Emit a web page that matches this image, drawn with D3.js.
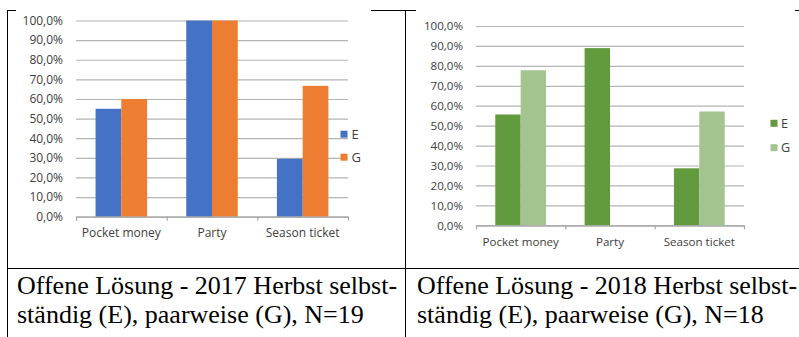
<!DOCTYPE html>
<html>
<head>
<meta charset="utf-8">
<script src="https://cdn.jsdelivr.net/npm/d3@7"></script>
<style>
  body { margin: 0; background: #fff; }
  svg { display: block; }
  .tick text { fill: #404040; }
  .caption { font-family: "Liberation Serif", "Times New Roman", serif; font-size: 26px; fill: #000; }
</style>
</head>
<body>
<div id="viz"></div>
<script>
// categories and series
const categories = ["Pocket money", "Party", "Season ticket"];
const seriesNames = ["E", "G"];
const yTicks = [0, 10, 20, 30, 40, 50, 60, 70, 80, 90, 100];

// 2017 chart values (%)
const values2017E = [55, 100, 29.5];
const values2017G = [60, 100, 66.7];
// 2018 chart values (%)
const values2018E = [55.6, 88.9, 28.6];
const values2018G = [77.8, 0, 57.1];

const captions2017 = ["Offene Lösung - 2017 Herbst selbst-", "ständig (E), paarweise (G), N=19"];
const captions2018 = ["Offene Lösung - 2018 Herbst selbst-", "ständig (E), paarweise (G), N=18"];

const CONST = {
  width: 799, height: 337,
  charts: [
    { left: 76, right: 348, top: 20.5, bottom: 216.7, labelY: 232.7,
      colors: ["#4472c4", "#ed7d31"], font: "Open Sans", fontSize: 12,
      legend: { x: 340.5, y: [134.2, 157.2], textX: 351.5 } },
    { left: 476, right: 744, top: 26, bottom: 225.3, labelY: 241.7,
      colors: ["#619b3e", "#a3c490"], font: "Open Sans", fontSize: 11.6,
      legend: { x: 770.5, y: [123.3, 147.7], textX: 781 } }
  ]
};

const svg = d3.select("#viz").append("svg")
  .attr("width", CONST.width)
  .attr("height", CONST.height);

function fmtPct(d) { return d.toFixed(1).replace(".", ",") + "%"; }

function drawChart(cfg, seriesE, seriesG) {
  const data = categories.map((c, i) => ({ cat: c, E: seriesE[i], G: seriesG[i] }));
  const W = cfg.right - cfg.left, H = cfg.bottom - cfg.top;
  const g = svg.append("g").attr("transform", `translate(${cfg.left},${cfg.top})`);

  const x0 = d3.scaleBand().domain(categories).range([0, W]).padding(0);
  const x1 = d3.scaleBand().domain(seriesNames).range([0, x0.bandwidth()])
    .paddingInner(0).paddingOuter(0.76);
  const y = d3.scaleLinear().domain([0, 100]).range([H, 0]);
  const color = d3.scaleOrdinal().domain(seriesNames).range(cfg.colors);

  // gridlines + y labels
  const yAxis = g.append("g")
    .call(d3.axisLeft(y).tickValues(yTicks).tickFormat(fmtPct)
      .tickSize(-W).tickPadding(13));
  yAxis.select(".domain").remove();
  yAxis.selectAll(".tick line").attr("stroke", "#b4b4b4").attr("stroke-width", 1.2);
  yAxis.selectAll(".tick text")
    .style("font-family", cfg.font).style("font-size", cfg.fontSize + "px");

  // bars
  g.append("g").selectAll("g").data(data).join("g")
    .attr("transform", d => `translate(${x0(d.cat)},0)`)
    .selectAll("rect")
    .data(d => seriesNames.map(s => ({ key: s, value: d[s] })))
    .join("rect")
    .attr("x", d => x1(d.key))
    .attr("width", x1.bandwidth())
    .attr("y", d => y(d.value))
    .attr("height", d => H - y(d.value))
    .attr("fill", d => color(d.key));

  // category axis with boundary ticks
  const xb = d3.scaleLinear().domain([0, categories.length]).range([0, W]);
  const xAxis = g.append("g").attr("transform", `translate(0,${H})`)
    .call(d3.axisBottom(xb).tickValues(d3.range(categories.length + 1))
      .tickFormat("").tickSize(4).tickSizeOuter(0));
  xAxis.selectAll("path, line").attr("stroke", "#a6a6a6").attr("stroke-width", 1.2);

  g.append("g").selectAll("text").data(categories).join("text")
    .attr("x", d => x0(d) + x0.bandwidth() / 2)
    .attr("y", cfg.labelY - cfg.top)
    .attr("dy", "0.35em")
    .attr("text-anchor", "middle")
    .style("font-family", cfg.font).style("font-size", cfg.fontSize + "px")
    .attr("fill", "#404040")
    .text(d => d);

  // legend
  const leg = svg.append("g");
  seriesNames.forEach((s, i) => {
    leg.append("rect")
      .attr("x", cfg.legend.x).attr("y", cfg.legend.y[i] - 3.5)
      .attr("width", 7).attr("height", 7)
      .attr("fill", color(s));
    leg.append("text")
      .attr("x", cfg.legend.textX).attr("y", cfg.legend.y[i])
      .attr("dy", "0.35em")
      .style("font-family", cfg.font).style("font-size", (cfg.fontSize + 1) + "px")
      .attr("fill", "#404040")
      .text(s);
  });
}

function drawTable() {
  const t = svg.append("g").attr("stroke", "#000").attr("stroke-width", 1);
  const lines = [
    [7.5, 10, 7.5, 337],
    [405.5, 10, 405.5, 337],
    [7, 10.5, 16, 10.5],
    [371, 10.5, 416, 10.5],
    [795, 10.5, 799, 10.5],
    [7, 268.5, 799, 268.5]
  ];
  lines.forEach(l => t.append("line")
    .attr("x1", l[0]).attr("y1", l[1]).attr("x2", l[2]).attr("y2", l[3]));

  [[17, captions2017], [417, captions2018]].forEach(([x, cap]) => {
    cap.forEach((line, i) => {
      svg.append("text").attr("class", "caption")
        .attr("x", x).attr("y", 294 + i * 29)
        .text(line);
    });
  });
}

drawChart(CONST.charts[0], values2017E, values2017G);
drawChart(CONST.charts[1], values2018E, values2018G);
drawTable();
</script>
</body>
</html>
